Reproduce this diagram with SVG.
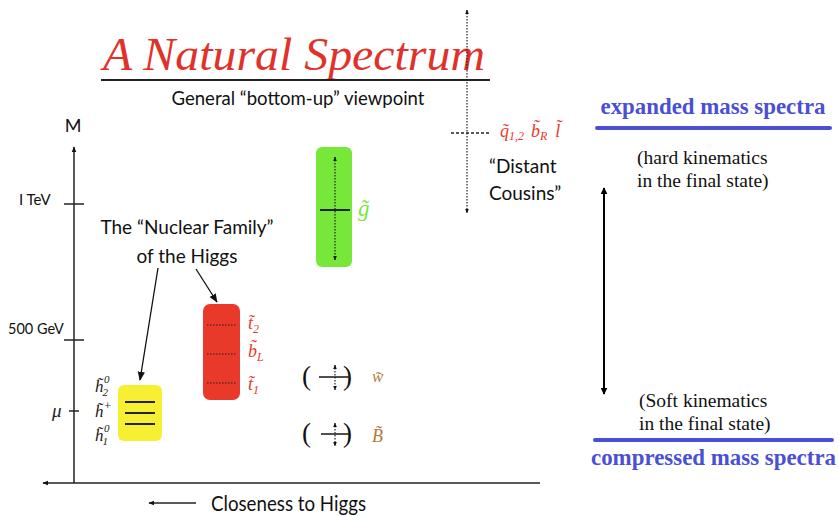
<svg xmlns="http://www.w3.org/2000/svg" width="839" height="516" viewBox="0 0 839 516">
<style>
.sans{font-family:Lato,"Open Sans","Liberation Sans",sans-serif;fill:#111}
.math{font-family:"Liberation Serif","DejaVu Serif",serif;font-style:italic}
.serif{font-family:"Liberation Serif",serif;fill:#111}
.blue{font-family:"Liberation Serif",serif;font-weight:bold;fill:#4a4fd6}
.red{fill:#e8392a}
.ax{stroke:#222;stroke-width:1.5;fill:none}
.dot{stroke:#222;stroke-width:1.2;stroke-dasharray:1.5 1.5;fill:none}
</style>
<defs>
<marker id="ah" viewBox="0 0 10 10" refX="9" refY="5" markerWidth="7" markerHeight="7" orient="auto-start-reverse"><path d="M0,1 L10,5 L0,9 z" fill="#111"/></marker>
<marker id="sm" viewBox="0 0 10 10" refX="9" refY="5" markerWidth="4" markerHeight="4" orient="auto-start-reverse"><path d="M0,1 L10,5 L0,9 z" fill="#111"/></marker>
<marker id="big" viewBox="0 0 10 10" refX="9" refY="5" markerWidth="3.5" markerHeight="3.5" orient="auto-start-reverse"><path d="M0,0 L10,5 L0,10 z" fill="#000"/></marker>
</defs>
<rect width="839" height="516" fill="#fff"/>

<g id="title">
<text x="103" y="70" font-family="Liberation Serif,serif" font-style="italic" font-size="46" fill="#e0322a" textLength="382" lengthAdjust="spacingAndGlyphs">A Natural Spectrum</text>
<line x1="101" y1="80" x2="490" y2="80" stroke="#222" stroke-width="2"/>
<text class="sans" x="298" y="105" font-size="18.5" text-anchor="middle" textLength="253" lengthAdjust="spacingAndGlyphs">General “bottom-up” viewpoint</text>
</g>

<g id="axes">
<line class="ax" x1="74" y1="483" x2="74" y2="147" marker-end="url(#sm)"/>
<line class="ax" x1="540" y1="483" x2="43" y2="483" marker-end="url(#sm)"/>
<text class="sans" x="73" y="132" font-size="18" text-anchor="middle">M</text>
<line class="ax" x1="64" y1="204" x2="84" y2="204"/>
<text class="sans" x="19" y="205" font-size="15">I TeV</text>
<line class="ax" x1="64" y1="340" x2="84" y2="340"/>
<text class="sans" x="8" y="334" font-size="14.5">500 GeV</text>
<line class="ax" x1="69" y1="411" x2="79" y2="411"/>
<text class="math" x="52" y="417" font-size="19" fill="#222">μ</text>
<text class="sans" x="211" y="511" font-size="21" textLength="155" lengthAdjust="spacingAndGlyphs">Closeness to Higgs</text>
<line class="ax" x1="196" y1="503" x2="149" y2="503" marker-end="url(#sm)"/>
</g>

<g id="distant">
<line class="dot" x1="467" y1="10" x2="467" y2="213" marker-start="url(#sm)" marker-end="url(#sm)"/>
<line x1="451" y1="133" x2="490" y2="133" stroke="#222" stroke-width="1.3" stroke-dasharray="3 2"/>
<text class="math red" x="500" y="137" font-size="18">q̃<tspan font-size="12" dy="3">1,2</tspan><tspan dy="-3" dx="7">b̃</tspan><tspan font-size="12" dy="3">R</tspan><tspan dy="-3" dx="8">l̃</tspan></text>
<text class="sans" x="489" y="173" font-size="19">“Distant</text>
<text class="sans" x="489" y="200" font-size="19">Cousins”</text>
</g>

<g id="nuclear-label">
<text class="sans" x="187" y="234" font-size="19" text-anchor="middle">The “Nuclear Family”</text>
<text class="sans" x="187" y="263" font-size="19" text-anchor="middle">of the Higgs</text>
</g>

<g id="higgsinos">
<rect x="118" y="385" width="44" height="56" rx="6" fill="#f7ef31"/>
<line x1="125" y1="402" x2="155" y2="402" stroke="#222" stroke-width="2"/>
<line x1="125" y1="413" x2="155" y2="413" stroke="#222" stroke-width="2"/>
<line x1="125" y1="424" x2="155" y2="424" stroke="#222" stroke-width="2"/>
<text class="math" x="95" y="392" font-size="17" fill="#222">h̃<tspan font-size="11" dy="4" dx="-1">2</tspan></text>
<text class="math" x="104" y="383" font-size="11" fill="#222">0</text>
<text class="math" x="95" y="417" font-size="17" fill="#222">h̃<tspan font-size="12" dy="-7">+</tspan></text>
<text class="math" x="95" y="441" font-size="17" fill="#222">h̃<tspan font-size="11" dy="4" dx="-1">1</tspan></text>
<text class="math" x="104" y="432" font-size="11" fill="#222">0</text>
</g>

<g id="stops">
<rect x="203" y="304" width="37" height="96" rx="7" fill="#e8392a"/>
<line class="dot" x1="207" y1="325" x2="236" y2="325"/>
<line class="dot" x1="207" y1="354" x2="236" y2="354"/>
<line class="dot" x1="207" y1="383" x2="236" y2="383"/>
<text class="math red" x="248" y="329" font-size="18">t̃<tspan font-size="12" dy="4">2</tspan></text>
<text class="math red" x="248" y="357" font-size="18">b̃<tspan font-size="12" dy="4">L</tspan></text>
<text class="math red" x="248" y="390" font-size="18">t̃<tspan font-size="12" dy="4">1</tspan></text>
</g>

<g id="gluino">
<rect x="316" y="147" width="36" height="120" rx="6" fill="#77e83a"/>
<line class="dot" x1="335" y1="157" x2="335" y2="260" marker-start="url(#sm)" marker-end="url(#sm)"/>
<line x1="320" y1="210" x2="350" y2="210" stroke="#222" stroke-width="2"/>
<text class="math" x="358" y="216" font-size="23" fill="#77e83a">g̃</text>
</g>

<g id="wino">
<text class="serif" x="302" y="385" font-size="27">(</text>
<text class="serif" x="343" y="385" font-size="27">)</text>
<line x1="319" y1="377" x2="350" y2="377" stroke="#222" stroke-width="1.6"/>
<line class="dot" x1="335" y1="365" x2="335" y2="390" marker-start="url(#sm)" marker-end="url(#sm)"/>
<text class="math" x="372" y="382" font-size="17" fill="#b07a3a">w̃</text>
</g>

<g id="bino">
<text class="serif" x="302" y="442" font-size="27">(</text>
<text class="serif" x="343" y="442" font-size="27">)</text>
<line x1="321" y1="434" x2="349" y2="434" stroke="#222" stroke-width="1.6"/>
<line class="dot" x1="335" y1="423" x2="335" y2="446" marker-start="url(#sm)" marker-end="url(#sm)"/>
<text class="math" x="372" y="442" font-size="18" fill="#b07a3a">B̃</text>
</g>

<g id="connectors">
<line x1="158" y1="268" x2="140" y2="380" stroke="#111" stroke-width="1.3" marker-end="url(#ah)"/>
<line x1="196" y1="269" x2="217" y2="302" stroke="#111" stroke-width="1.3" marker-end="url(#ah)"/>
<line x1="604" y1="188" x2="604" y2="394" stroke="#000" stroke-width="2" marker-start="url(#big)" marker-end="url(#big)"/>
</g>

<g id="spectra">
<text class="blue" x="713" y="114" font-size="22.5" text-anchor="middle" textLength="225" lengthAdjust="spacingAndGlyphs">expanded mass spectra</text>
<line x1="597" y1="128" x2="830" y2="128" stroke="#4a4fd6" stroke-width="4" stroke-linecap="round"/>
<text class="serif" x="637" y="164" font-size="19.5">(hard kinematics</text>
<text class="serif" x="637" y="187" font-size="19.5">in the final state)</text>
<text class="serif" x="639" y="407" font-size="19.5">(Soft kinematics</text>
<text class="serif" x="639" y="430" font-size="19.5">in the final state)</text>
<line x1="595" y1="440" x2="832" y2="440" stroke="#4a4fd6" stroke-width="4" stroke-linecap="round"/>
<text class="blue" x="591" y="465" font-size="22.5" textLength="245" lengthAdjust="spacingAndGlyphs">compressed mass spectra</text>
</g>
</svg>
